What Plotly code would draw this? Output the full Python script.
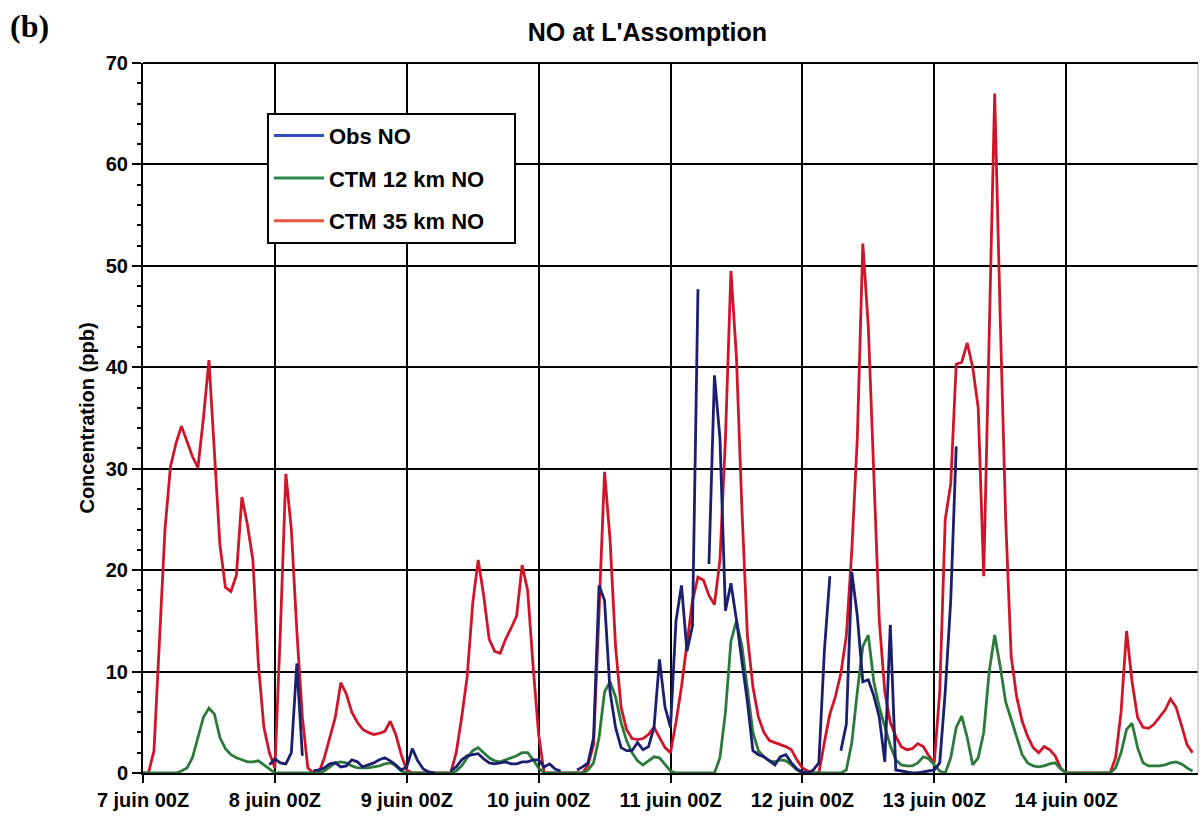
import plotly.graph_objects as go

# Hourly NO concentrations (ppb), 7 juin 00Z .. 14 juin 23Z (192 hours)
hours = list(range(192))

day_labels = ["7 juin 00Z", "8 juin 00Z", "9 juin 00Z", "10 juin 00Z",
              "11 juin 00Z", "12 juin 00Z", "13 juin 00Z", "14 juin 00Z"]
day_ticks = [0, 24, 48, 72, 96, 120, 144, 168]

ctm35_no = [
    # 7 juin
    0, 0, 2.2, 13, 24, 30.2, 32.5, 34.2, 32.8, 31.2, 30.1, 35, 40.7, 32, 22.5, 18.3,
    17.9, 19.5, 27.2, 24.5, 21, 10.7, 4.5, 2,
    # 8 juin
    0.5, 14, 29.5, 24, 14, 5.5, 0.5, 0, 0, 1.5, 3.5, 5.5, 8.9, 7.8, 6, 5,
    4.3, 4, 3.8, 3.9, 4.1, 5.1, 3.8, 1.8,
    # 9 juin
    0.3, 0, 0, 0, 0, 0, 0, 0, 0, 2, 5.5, 9.5, 16.7, 21, 17.5, 13.2,
    12, 11.8, 13.2, 14.3, 15.5, 20.5, 18, 10.5,
    # 10 juin
    3.8, 0, 0, 0, 0, 0, 0, 0, 0, 0.8, 2.8, 16, 29.7, 23, 12.5, 6.5,
    4.3, 3.4, 3.3, 3.4, 3.8, 4.5, 3.5, 2.5,
    # 11 juin
    2, 5, 8.5, 13, 17, 19.3, 19, 17.5, 16.6, 21, 33, 49.5, 41, 26, 13.5, 8.5,
    5.5, 4, 3.2, 3, 2.8, 2.6, 2.3, 1.3,
    # 12 juin
    0.5, 0.2, 0, 0, 3, 5.8, 7.5, 9.8, 13.5, 22, 33, 52.2, 44, 29, 15, 8,
    5, 3.6, 2.6, 2.3, 2.4, 2.9, 2.6, 1.7,
    # 13 juin
    1, 8, 25, 28.5, 40.3, 40.5, 42.4, 40, 36, 19.4, 43, 67, 45, 25, 11.5, 7.5,
    5.1, 3.6, 2.5, 2, 2.6, 2.3, 1.7, 0.5,
    # 14 juin
    0, 0, 0, 0, 0, 0, 0, 0, 0, 1.5, 6, 14, 9, 5.5, 4.5, 4.4,
    4.8, 5.5, 6.2, 7.3, 6.5, 4.7, 2.8, 2,
]

ctm12_no = [
    # 7 juin
    0, 0, 0, 0, 0, 0, 0, 0.2, 0.5, 1.5, 3.5, 5.5, 6.4, 5.8, 3.5, 2.4,
    1.8, 1.5, 1.3, 1.1, 1.1, 1.2, 0.8, 0.4,
    # 8 juin
    0, 0, 0, 0, 0, 0, 0, 0, 0, 0.2, 0.6, 1, 1.1, 1, 0.7, 0.5,
    0.5, 0.5, 0.6, 0.7, 0.9, 1, 0.7, 0.2,
    # 9 juin
    0, 0, 0, 0, 0, 0, 0, 0, 0, 0.2, 0.7, 1.5, 2.2, 2.5, 2, 1.5,
    1.2, 1.1, 1.3, 1.5, 1.7, 2, 2, 1.3,
    # 10 juin
    0.5, 0, 0, 0, 0, 0, 0, 0, 0, 0.3, 1, 3.5, 8, 9, 7.5, 5,
    3.2, 2, 1.2, 0.8, 1.2, 1.6, 1.5, 0.8,
    # 11 juin
    0.2, 0, 0, 0, 0, 0, 0, 0, 0, 1.5, 6, 13, 15, 12.5, 8, 4,
    2.2, 1.6, 1.2, 1.1, 1.3, 1.2, 0.8, 0.3,
    # 12 juin
    0, 0, 0, 0, 0, 0, 0, 0, 0.3, 3, 8, 12.5, 13.6, 9, 6.5, 4.5,
    2.7, 1.3, 0.8, 0.7, 0.7, 1, 1.6, 1.4,
    # 13 juin
    0.8, 0.2, 0, 1.5, 4.5, 5.6, 3.5, 0.8, 1.5, 4, 10, 13.6, 10.5, 7, 5.3, 3.5,
    1.8, 1, 0.7, 0.6, 0.7, 0.9, 1, 0.4,
    # 14 juin
    0, 0, 0, 0, 0, 0, 0, 0, 0, 0.5, 2, 4.3, 4.9, 2.5, 1, 0.7,
    0.7, 0.7, 0.8, 1, 1.1, 0.9, 0.5, 0.2,
]

N = None  # missing observation
obs_no = [
    # 7 juin
    N, N, N, N, N, N, N, N, N, N, N, N, N, N, N, N,
    N, N, N, N, N, N, N, 0.8,
    # 8 juin
    1.4, 1, 0.9, 2, 10.8, 1.7, N, 0.2, 0.3, 0.5, 0.9, 1, 0.6, 0.7, 1.3, 1.1,
    0.6, 0.8, 1, 1.3, 1.5, 1.2, 0.8, 0.3,
    # 9 juin
    0.6, 2.4, 1.2, 0.4, 0.1, 0, N, N, 0.2, 0.6, 1.3, 1.7, 1.8, 1.9, 1.4, 1,
    0.9, 1, 1.1, 0.9, 0.9, 1.1, 1.1, 1.3,
    # 10 juin
    1.3, 0.6, 0.9, 0.4, 0.2, N, N, 0.3, 0.6, 1, 3.5, 18.5, 17, 8, 4.5, 2.5,
    2.2, 2.2, 3, 2.3, 2.6, 4.5, 11.2, 6.5,
    # 11 juin
    4.5, 15, 18.5, 12, 14.5, 47.7, N, 20.6, 39.2, 33, 16, 18.7, 15.1, 11, 7, 2.2,
    1.8, 1.6, 1.2, 0.8, 1.6, 1.8, 1, 0.4,
    # 12 juin
    0.1, 0, 0.3, 1, 12, 19.4, N, 2.2, 4.8, 19.8, 15.5, 9, 9.2, 7.6, 5.5, 1.1,
    14.6, 0.3, 0.2, 0.1, 0, 0, 0.1, 0.2,
    # 13 juin
    0.3, 1, 8, 17, 32.2, N, N, N, N, N, N, N, N, N, N, N,
    N, N, N, N, N, N, N, N,
    # 14 juin
    N, N, N, N, N, N, N, N, N, N, N, N, N, N, N, N,
    N, N, N, N, N, N, N, N,
]

FONT = "Liberation Sans"

fig = go.Figure()

# data lines (drawn without their own legend entries)
fig.add_trace(go.Scatter(x=hours, y=ctm35_no, mode="lines", showlegend=False,
                         line=dict(color="#d0152a", width=2.8)))
fig.add_trace(go.Scatter(x=hours, y=ctm12_no, mode="lines", showlegend=False,
                         line=dict(color="#2b7a3c", width=2.8)))
fig.add_trace(go.Scatter(x=hours, y=obs_no, mode="lines", showlegend=False,
                         connectgaps=False,
                         line=dict(color="#1b1f6e", width=2.8)))

# legend keys (trailing non-breaking spaces pad the legend box on the right)
PAD = "\u00a0" * 4
legend_keys = [("Obs NO", "#2f4fb8"), ("CTM 12 km NO", "#2a8a4c"), ("CTM 35 km NO", "#e8553c")]
for i, (name, col) in enumerate(legend_keys):
    fig.add_trace(go.Scatter(x=[None], y=[None], mode="lines", name=name + PAD,
                             legendgroup=f"g{i}",
                             line=dict(color=col, width=3)))

# faint right border of the plot frame
fig.add_shape(type="line", xref="paper", yref="paper", x0=1, x1=1, y0=0, y1=1,
              line=dict(color="#b0b0b0", width=1))

fig.add_annotation(text="<b>(b)</b>", xref="paper", yref="paper",
                   x=-0.128, y=1.052, xanchor="left", yanchor="middle",
                   showarrow=False, font=dict(family="Liberation Serif", size=32, color="black"))

fig.update_layout(
    width=1201, height=821,
    margin=dict(l=143, r=3, t=63, b=48),
    paper_bgcolor="white", plot_bgcolor="white",
    title=dict(text="<b>NO at L'Assomption</b>", x=0.539, xanchor="center",
               y=0.961, yanchor="middle",
               font=dict(family=FONT, size=25, color="black")),
    legend=dict(x=0.1175, y=0.93, xanchor="left", yanchor="top",
                bgcolor="white", bordercolor="black", borderwidth=2,
                tracegroupgap=11, itemwidth=50,
                font=dict(family=FONT, size=22, color="black", weight="bold")),
    xaxis=dict(range=[0, 192], tickvals=day_ticks, ticktext=day_labels,
               showgrid=True, gridcolor="black", gridwidth=1.6,
               showline=True, linecolor="black", linewidth=2, mirror=False,
               ticks="outside", ticklen=8, tickwidth=1.5, tickcolor="black",
               zeroline=False,
               tickfont=dict(family=FONT, size=20, color="black", weight="bold")),
    yaxis=dict(range=[0, 70], dtick=10, tick0=0,
               showgrid=True, gridcolor="black", gridwidth=2,
               showline=True, linecolor="black", linewidth=2,
               ticks="outside", ticklen=9, tickwidth=1.5, tickcolor="black",
               zeroline=False,
               minor=dict(dtick=2, ticks="outside", ticklen=4, tickcolor="black",
                          showgrid=False),
               title=dict(text="Concentration (ppb)", standoff=6,
                          font=dict(family=FONT, size=20, color="black", weight="bold")),
               tickfont=dict(family=FONT, size=20, color="black", weight="bold")),
)

# top frame line
fig.add_shape(type="line", xref="paper", yref="paper", x0=0, x1=1, y0=1, y1=1,
              line=dict(color="black", width=2))

fig.write_html("out.html")
